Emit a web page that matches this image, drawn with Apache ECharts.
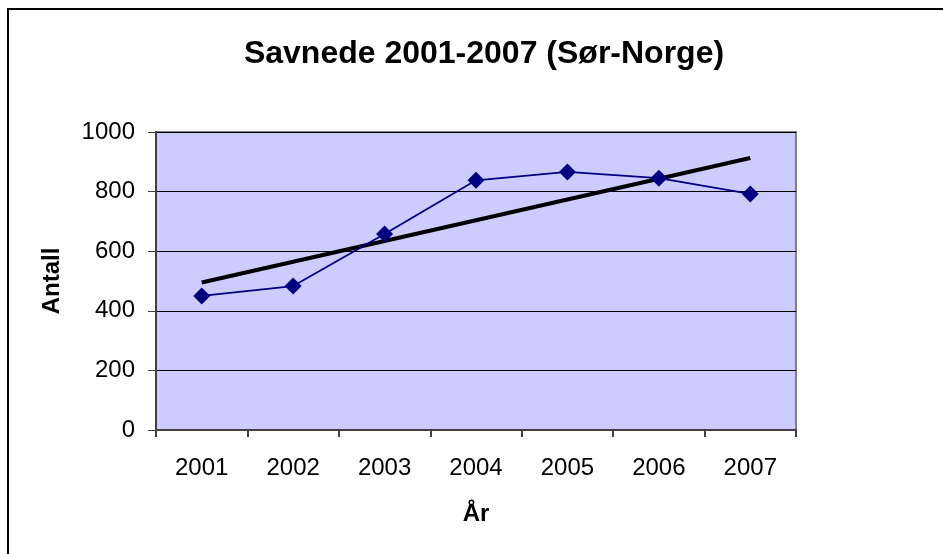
<!DOCTYPE html>
<html>
<head>
<meta charset="utf-8">
<script src="https://cdn.jsdelivr.net/npm/echarts@6/dist/echarts.min.js"></script>
<style>
  html, body { margin: 0; padding: 0; background: #fff; }
  #chart { width: 943px; height: 554px; }
</style>
</head>
<body>
<div id="chart"></div>
<script>
// data
const years = ['2001', '2002', '2003', '2004', '2005', '2006', '2007'];
const savnede = [450, 483, 658, 838, 866, 845, 792];
// linear trend line, end points
const trendYears = ['2001', '2007'];
const trendValues = [495, 913];

const font = 'Liberation Sans, Arial, sans-serif';
const chart = echarts.init(document.getElementById('chart'));

chart.setOption({
  animation: false,
  backgroundColor: '#fff',
  textStyle: { fontFamily: font },
  graphic: [{
    type: 'rect',
    shape: { x: 8, y: 9, width: 960, height: 580 },
    style: { fill: 'none', stroke: '#000', lineWidth: 2 },
    z: 100
  }],
  title: {
    text: 'Savnede 2001-2007 (Sør-Norge)',
    left: 479,
    top: 33,
    textAlign: 'center',
    textStyle: { fontSize: 32, fontWeight: 'bold', color: '#000', fontFamily: font }
  },
  grid: {
    left: 156, right: 147, top: 132, bottom: 124,
    show: true,
    backgroundColor: '#CCCCFF',
    borderColor: '#808080',
    borderWidth: 2
  },
  xAxis: {
    type: 'category',
    data: years,
    boundaryGap: true,
    name: 'År',
    nameLocation: 'middle',
    nameGap: 72,
    nameTextStyle: { fontSize: 24, fontWeight: 'bold', color: '#000' },
    axisLine: { lineStyle: { color: '#404040', width: 2 } },
    axisTick: { show: true, length: 7, alignWithLabel: false, lineStyle: { color: '#404040', width: 2 } },
    axisLabel: { fontSize: 24, color: '#000', margin: 26 },
    splitLine: { show: false }
  },
  yAxis: {
    type: 'value',
    min: 0,
    max: 1000,
    interval: 200,
    name: 'Antall',
    nameLocation: 'middle',
    nameGap: 92,
    nameTextStyle: { fontSize: 24, fontWeight: 'bold', color: '#000' },
    axisLine: { show: true, lineStyle: { color: '#404040', width: 2 } },
    axisTick: { show: true, length: 8, lineStyle: { color: '#404040', width: 1 } },
    axisLabel: { fontSize: 24, color: '#000', margin: 21, formatter: v => String(v) },
    splitLine: { show: true, lineStyle: { color: '#000', width: 1 } }
  },
  series: [
    {
      name: 'Savnede',
      type: 'line',
      data: savnede,
      symbol: 'diamond',
      symbolSize: 17,
      itemStyle: { color: '#000080' },
      lineStyle: { color: '#000080', width: 1.8 },
      z: 3
    },
    {
      name: 'Trend',
      type: 'line',
      data: trendYears.map((y, i) => [y, trendValues[i]]),
      symbol: 'none',
      lineStyle: { color: '#000', width: 4 },
      z: 2
    }
  ]
});
</script>
</body>
</html>
